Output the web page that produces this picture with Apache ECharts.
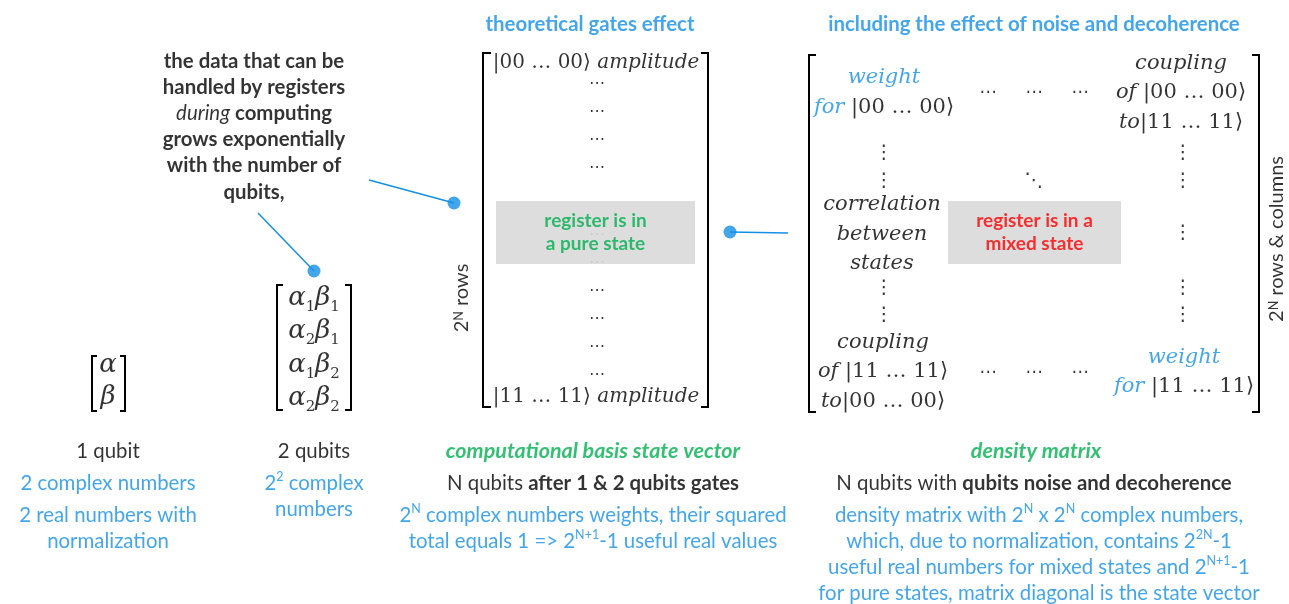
<!DOCTYPE html>
<html><head><meta charset="utf-8">
<script src="https://cdn.jsdelivr.net/npm/echarts@6/dist/echarts.min.js"></script>
<style>html,body{margin:0;padding:0;background:#fff}#c{width:1289px;height:604px}</style>
</head><body><div id="c"></div>
<script>
// ---------------- content (text values) ----------------
const noteLines = ['the data that can be', 'handled by registers', '{i|during} computing', 'grows exponentially', 'with the number of', 'qubits,'];
const panelTitles = ['theoretical gates effect', 'including the effect of noise and decoherence'];
const oneQubitAmplitudes = ['α', 'β'];
const twoQubitAmplitudes = [['α', '1', 'β', '1'], ['α', '2', 'β', '1'], ['α', '1', 'β', '2'], ['α', '2', 'β', '2']];
const stateVectorEnds = ['|00 … 00⟩', '|11 … 11⟩'];
const stateVectorWord = 'amplitude';
const densityCells = [
  ['{w|weight}', '{w|for} |00 … 00⟩'],
  ['{m|coupling}', '{m|of} |00 … 00⟩', '{m|to}|11 … 11⟩'],
  ['{m|correlation}', '{m|between}', '{m|states}'],
  ['{m|coupling}', '{m|of} |11 … 11⟩', '{m|to}|00 … 00⟩'],
  ['{w|weight}', '{w|for} |11 … 11⟩']
];
const registerStates = [['register is in', 'a pure state'], ['register is in a', 'mixed state']];
const sizeLabels = ['2{sup|N} rows', '2{sup|N} rows & columns'];
const qubitLabels = ['1 qubit', '2 qubits'];
const representationNames = ['computational basis state vector', 'density matrix'];
const regimeLabels = ['N qubits {b|after 1 & 2 qubits gates}', 'N qubits with {b|qubits noise and decoherence}'];
const countNotes = [
  ['2 complex numbers'],
  ['2 real numbers with', 'normalization'],
  ['2{sup|2} complex', 'numbers'],
  ['2{sup|N} complex numbers weights, their squared', 'total equals 1 => 2{sup|N+1}-1 useful real values'],
  ['density matrix with 2{sup|N} x 2{sup|N} complex numbers,', 'which, due to normalization, contains 2{sup|2N}-1', 'useful real numbers for mixed states and 2{sup|N+1}-1', 'for pure states, matrix diagonal is the state vector']
];

// ---------------- layout (diagram coordinates) ----------------
const P_NOTE = [254, 126.5];
const P_TITLES = [[590, 24], [1034, 24]];
const P_VEC1 = [108, 381];
const P_VEC2 = [314, 348];
const P_SV_ENDS = [[596, 63], [596, 397]];
const P_SV_DOTS_X = 597;
const P_SV_DOTS_Y = [84, 112, 140, 168, 235, 263, 291, 319, 347, 375];
const P_DM_CELLS = [[884, 92.5], [1181, 93], [882, 234.5], [883, 372], [1184, 372]];
const P_DM_HDOTS = [[988, 93], [1034, 93], [1080, 93], [988, 373], [1034, 373], [1080, 373]];
const P_DM_VDOTS = [[884, 153], [884, 181], [884, 288], [884, 315], [1183, 153], [1183, 181], [1183, 233], [1183, 288], [1183, 315]];
const P_DM_DDOTS = [[1034, 181]];
const P_BOXES = [[496, 201, 695, 264], [948, 201, 1121, 264]];
const P_SIZE = [[462, 298], [1277, 239]];
const P_QUBIT = [[108, 451], [314, 451]];
const P_REPR = [[593, 451], [1036, 451]];
const P_REGIME = [[593, 483], [1034, 483]];
const P_COUNT = [[108, 483], [108, 528], [314, 496], [593, 528], [1039, 554]];
// brackets: x, yTop, yBottom, direction of serif, serif length
const P_BRACKETS = [
  [92, 356, 411, 1, 5], [125, 356, 411, -1, 5],
  [277, 285, 410, 1, 6], [351, 285, 410, -1, 6],
  [483, 53, 407, 1, 8], [708, 53, 407, -1, 7],
  [809, 55, 412, 1, 7], [1259, 55, 412, -1, 7]
];
const P_CONNECTORS = [[[369, 180], [454, 203]], [[258, 213], [314, 271]], [[788, 233], [730, 232]]];

// ---------------- styles ----------------
const BLUE = '#1490e6', GREEN = '#00b050', RED = '#ff0000', INK = '#000000';
const SANS = 'Lato, "Open Sans", sans-serif';
const SERIF = '"DejaVu Serif", "DejaVu Sans", serif';
const SYM = '"DejaVu Sans", sans-serif';
const FS = 20.4;

function richFor(color, size, lh) {
  return {
    b: {fontFamily: SANS, fontSize: size, fontWeight: 'bold', color: color, lineHeight: lh},
    i: {fontFamily: SANS, fontSize: size, fontStyle: 'italic', fontWeight: 'normal', color: color, lineHeight: lh},
    sup: {fontFamily: SANS, fontSize: 12.5, color: color, verticalAlign: 'top', lineHeight: 15},
    m: {fontFamily: SERIF, fontSize: 21, fontStyle: 'italic', color: INK, lineHeight: lh},
    w: {fontFamily: SERIF, fontSize: 21, fontStyle: 'italic', color: BLUE, lineHeight: lh},
    g: {fontFamily: SERIF, fontSize: 26, fontStyle: 'italic', color: INK, lineHeight: lh},
    s: {fontFamily: SERIF, fontSize: 15, color: INK, verticalAlign: 'bottom', lineHeight: 20},
    a: {fontFamily: SERIF, fontSize: 20, fontStyle: 'italic', color: INK, lineHeight: lh}
  };
}

function textSeries(id, points, texts, base, z, extra) {
  const lab = Object.assign({
    show: true, position: 'inside', align: 'center', verticalAlign: 'middle',
    fontFamily: SANS, fontSize: FS, color: INK
  }, base);
  lab.rich = richFor(lab.color, lab.fontSize, lab.lineHeight);
  return Object.assign({
    type: 'scatter', id: id, z: z || 5, silent: true, symbol: 'circle', symbolSize: 1,
    itemStyle: {color: 'rgba(0,0,0,0)'},
    label: lab,
    data: points.map((p, k) => ({value: [p[0], p[1]], label: {formatter: texts[k]}}))
  }, extra || {});
}

const series = [];

// brackets
series.push({
  type: 'custom', id: 'brackets', z: 2, silent: true,
  data: P_BRACKETS,
  renderItem: function (params, api) {
    const x = api.value(0), t = api.value(1), b = api.value(2), d = api.value(3), s = api.value(4);
    const pts = [[x + d * s, t], [x, t], [x, b], [x + d * s, b]].map(q => api.coord(q));
    return {type: 'polyline', shape: {points: pts}, style: {stroke: '#000', lineWidth: 2, fill: null}};
  }
});

// connectors
series.push({
  type: 'lines', coordinateSystem: 'cartesian2d', z: 2, silent: true,
  lineStyle: {color: BLUE, width: 1.5, opacity: 1},
  data: P_CONNECTORS.map(c => ({coords: c}))
});
series.push({
  type: 'scatter', z: 3, silent: true, symbolSize: 13, itemStyle: {color: BLUE},
  data: P_CONNECTORS.map(c => c[1])
});

// gray boxes
series.push({
  type: 'custom', id: 'boxes', z: 4, silent: true,
  data: P_BOXES,
  renderItem: function (params, api) {
    const p1 = api.coord([api.value(0), api.value(1)]);
    const p2 = api.coord([api.value(2), api.value(3)]);
    return {type: 'rect', shape: {x: p1[0], y: p1[1], width: p2[0] - p1[0], height: p2[1] - p1[1]},
      style: {fill: 'rgba(218,218,218,0.92)'}};
  }
});

// matrix dots (under the boxes)
series.push(textSeries('svdots', P_SV_DOTS_Y.map(y => [P_SV_DOTS_X, y]), P_SV_DOTS_Y.map(() => '⋯'),
  {fontFamily: SYM, fontSize: 16}, 3));
series.push(textSeries('dmh', P_DM_HDOTS, P_DM_HDOTS.map(() => '⋯'), {fontFamily: SYM, fontSize: 17}, 3));
series.push(textSeries('dmv', P_DM_VDOTS, P_DM_VDOTS.map(() => '⋮'), {fontFamily: SYM, fontSize: 19}, 3));
series.push(textSeries('dmd', P_DM_DDOTS, P_DM_DDOTS.map(() => '⋱'), {fontFamily: SYM, fontSize: 19}, 3));

// note
series.push(textSeries('note', [P_NOTE], [noteLines.join('\n')], {fontWeight: 'bold', lineHeight: 26.2}));
// titles
series.push(textSeries('titles', P_TITLES, panelTitles, {fontWeight: 'bold', color: BLUE}));
// vectors
series.push(textSeries('vec1', [P_VEC1], [oneQubitAmplitudes.map(a => '{g|' + a + '}').join('\n')],
  {fontFamily: SERIF, fontSize: 26, lineHeight: 32}));
series.push(textSeries('vec2', [P_VEC2], [twoQubitAmplitudes.map(r => '{g|' + r[0] + '}{s|' + r[1] + '}{g|' + r[2] + '}{s|' + r[3] + '}').join('\n')],
  {fontFamily: SERIF, fontSize: 26, lineHeight: 33.5}));
// state vector ends
series.push(textSeries('svends', P_SV_ENDS, stateVectorEnds.map(s => s + ' {a|' + stateVectorWord + '}'),
  {fontFamily: SERIF, fontSize: 20, lineHeight: 26}));
// density cells
series.push(textSeries('dm', P_DM_CELLS, densityCells.map(c => c.join('\n')),
  {fontFamily: SERIF, fontSize: 21, lineHeight: 29.5}));
// box texts
series.push(textSeries('pure', [[(P_BOXES[0][0] + P_BOXES[0][2]) / 2, (P_BOXES[0][1] + P_BOXES[0][3]) / 2]],
  [registerStates[0].join('\n')], {fontWeight: 'bold', fontSize: 19, color: GREEN, lineHeight: 23}, 6));
series.push(textSeries('mixed', [[(P_BOXES[1][0] + P_BOXES[1][2]) / 2, (P_BOXES[1][1] + P_BOXES[1][3]) / 2]],
  [registerStates[1].join('\n')], {fontWeight: 'bold', fontSize: 19, color: RED, lineHeight: 23}, 6));
// size labels (rotated)
series.push(textSeries('sizes', P_SIZE, sizeLabels, {rotate: 90, fontSize: 20}));
// captions
series.push(textSeries('qubits', P_QUBIT, qubitLabels, {}));
series.push(textSeries('repr', P_REPR, representationNames, {fontWeight: 'bold', fontStyle: 'italic', color: GREEN, fontSize: 21.5}));
series.push(textSeries('regime', P_REGIME, regimeLabels, {}));
series.push(textSeries('counts', P_COUNT, countNotes.map(c => c.join('\n')), {color: BLUE, lineHeight: 26}));

const chart = echarts.init(document.getElementById('c'), null, {renderer: 'canvas'});
chart.setOption({
  animation: false,
  backgroundColor: '#ffffff',
  grid: {left: 0, right: 0, top: 0, bottom: 0},
  xAxis: {type: 'value', min: 0, max: 1289, show: false},
  yAxis: {type: 'value', min: 0, max: 604, inverse: true, show: false},
  series: series
});
</script></body></html>
